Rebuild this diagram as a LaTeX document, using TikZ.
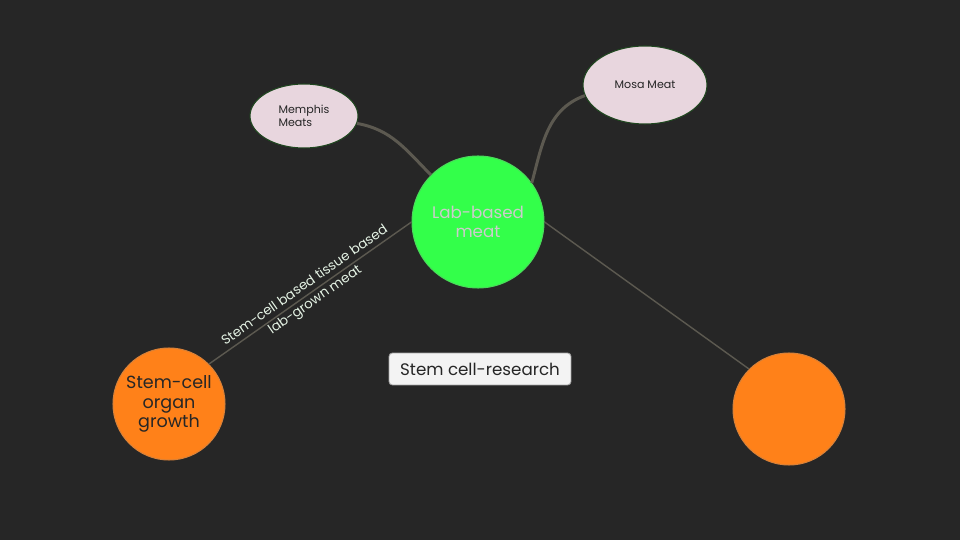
\documentclass[tikz,border=0pt]{standalone}
\usepackage{fontspec}
\setmainfont{Poppins}
\usetikzlibrary{shapes.geometric}
\definecolor{bgcol}{HTML}{262626}
\definecolor{greencol}{HTML}{33FF4A}
\definecolor{orangecol}{HTML}{FF8119}
\definecolor{pinkcol}{HTML}{E8D6DE}
\definecolor{linecol}{HTML}{5C5950}
\definecolor{boxcol}{HTML}{F3F3F3}
\definecolor{labelcol}{HTML}{E4F2E4}
\tikzset{
  topic/.style={circle,inner sep=0pt,draw=#1!70!gray,line width=0.6pt,fill=#1},
  company/.style={ellipse,inner sep=0pt,draw=gray!60!green!40!black,line width=0.6pt,fill=pinkcol,text=black!85,font=\fontsize{6.3}{7.4}\selectfont},
  branch/.style={draw=linecol,line width=1.7pt},
  link/.style={draw=linecol,line width=0.8pt}
}
\begin{document}
\begin{tikzpicture}[x=0.02cm,y=-0.02cm]
  \fill[bgcol] (0,0) rectangle (960,540);
  % central topic and the two branches
  \node[topic=greencol,minimum size=2.64cm,text=gray!40,align=center,font=\fontsize{9.5}{11}\selectfont] (lab) at (478,222) {Lab-based\\meat};
  \node[topic=orangecol,minimum size=2.24cm,text=black!85,align=center,font=\fontsize{10}{11}\selectfont] (organ) at (169,404) {Stem-cell\\organ\\growth};
  \node[topic=orangecol,minimum size=2.24cm] (blank) at (789,409) {};
  % companies
  \node[company,minimum width=2.16cm,minimum height=1.28cm,align=left] (memphis) at (304,116) {Memphis\\Meats};
  \node[company,minimum width=2.48cm,minimum height=1.56cm] (mosa) at (645,85) {Mosa Meat};
  % title box
  \node[draw=gray!70,fill=boxcol,rounded corners=2pt,line width=0.5pt,minimum width=3.64cm,minimum height=0.64cm,text=black!85,font=\fontsize{9.5}{11}\selectfont] (title) at (480,369) {Stem cell-research};
  % connectors
  \draw[branch] (memphis.-8) to[out=-10,in=135] (lab.135);
  \draw[branch] (mosa.190) to[out=200,in=75] (lab.36);
  \draw[link] (lab.west) -- node[sloped,pos=0.5,align=center,text=labelcol,font=\fontsize{7.6}{10.2}\selectfont] (tissue) {Stem-cell based tissue based\\lab-grown meat} (organ.45);
  \draw[link] (lab.east) -- (blank.135);
\end{tikzpicture}
\end{document}
